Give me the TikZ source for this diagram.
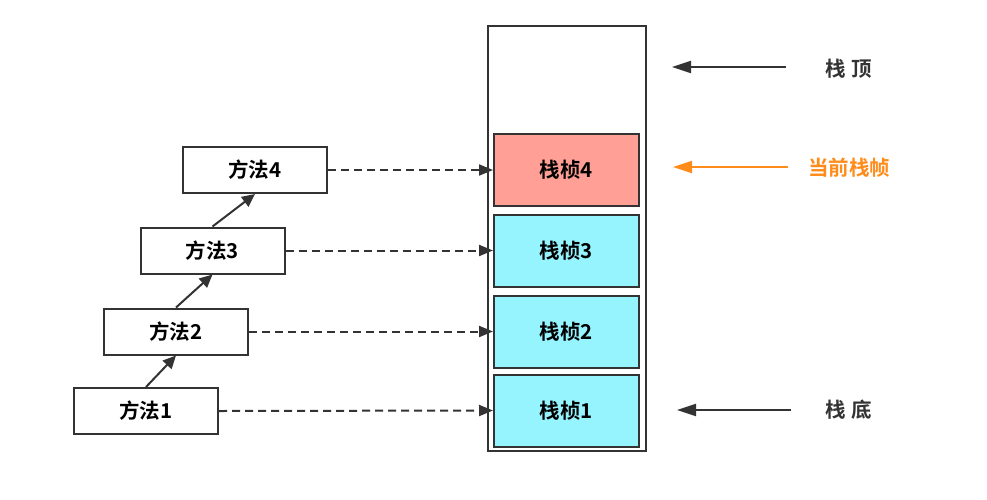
\documentclass[tikz,border=0pt]{standalone}
\usepackage{fontspec}
\setmainfont{Noto Sans CJK SC}[BoldFont={Noto Sans CJK SC Bold}]
\usepackage{tikz}
\usetikzlibrary{arrows.meta}
\definecolor{linegray}{HTML}{333333}
\definecolor{framered}{HTML}{FF9F96}
\definecolor{framecyan}{HTML}{96F4FF}
\definecolor{hintorange}{HTML}{FF8C1A}
\tikzstyle{methodbox}=[rectangle,draw=linegray,fill=white,line width=2pt,
                      minimum width=144pt,minimum height=46pt,
                      font=\fontsize{20.5}{20.5}\selectfont\bfseries,inner sep=2pt]
\tikzstyle{framebox}=[rectangle,draw=linegray,line width=2pt,
                      minimum width=145pt,minimum height=72pt,
                      font=\fontsize{20.5}{20.5}\selectfont\bfseries,inner sep=2pt]
\tikzstyle{stackbox}=[rectangle,draw=linegray,line width=2pt,
                      minimum width=158pt,minimum height=425pt,inner sep=0pt]
\tikzstyle{sidelabel}=[font=\fontsize{20.5}{20.5}\selectfont\bfseries,text=linegray,inner sep=0pt]
\tikzstyle{callarrow}=[draw=linegray,line width=2pt,-{Triangle[length=13pt,width=12pt]}]
\tikzstyle{linkarrow}=[draw=linegray,line width=2pt,dash pattern=on 8pt off 5pt,
                      -{Triangle[length=14pt,width=11pt]}]
\tikzstyle{pointarrow}=[draw=linegray,line width=2pt,-{Triangle[length=19pt,width=12pt]}]
\newcommand\framex{566.5}

\begin{document}
\begin{tikzpicture}[x=1pt,y=-1pt]
    \useasboundingbox (0,0) rectangle (987,499);
    % stack and its frames
    \node [stackbox] (stack) at (567,238.5) {};
    \node [framebox,fill=framecyan] (frame1) at (\framex,410.5) {栈桢1};
    \node [framebox,fill=framecyan] (frame2) at (\framex,331.5) {栈桢2};
    \node [framebox,fill=framecyan] (frame3) at (\framex,250.5) {栈桢3};
    \node [framebox,fill=framered] (frame4) at (\framex,170) {栈桢4};
    % methods
    \node [methodbox] (method1) at (146,411) {方法1};
    \node [methodbox] (method2) at (176,331.5) {方法2};
    \node [methodbox] (method3) at (212.5,250.5) {方法3};
    \node [methodbox] (method4) at (255,170) {方法4};
    \draw [callarrow] (method1.north) -- (method2.south);
    \draw [callarrow] (method2.north) -- (method3.south);
    \draw [callarrow] (method3.north) -- (method4.south);
    \draw [linkarrow] (method1.east) -- (frame1.west);
    \draw [linkarrow] (method2.east) -- (frame2.west);
    \draw [linkarrow] (method3.east) -- (frame3.west);
    \draw [linkarrow] (method4.east) -- (frame4.west);
    % labels on the right
    \node [sidelabel] (toplabel) at (849,69) {栈\hspace{6pt}顶};
    \node [sidelabel,text=hintorange] (currentlabel) at (849,168) {当前栈帧};
    \node [sidelabel] (bottomlabel) at (849,410) {栈\hspace{6pt}底};
    \coordinate (topfrom) at (786,67);
    \coordinate (topto) at (672,67);
    \coordinate (currentfrom) at (788,167);
    \coordinate (currentto) at (673,167);
    \coordinate (bottomfrom) at (791,410);
    \coordinate (bottomto) at (677,410);
    \draw [pointarrow] (topfrom) -- (topto);
    \draw [pointarrow,draw=hintorange] (currentfrom) -- (currentto);
    \draw [pointarrow] (bottomfrom) -- (bottomto);
\end{tikzpicture}
\end{document}
